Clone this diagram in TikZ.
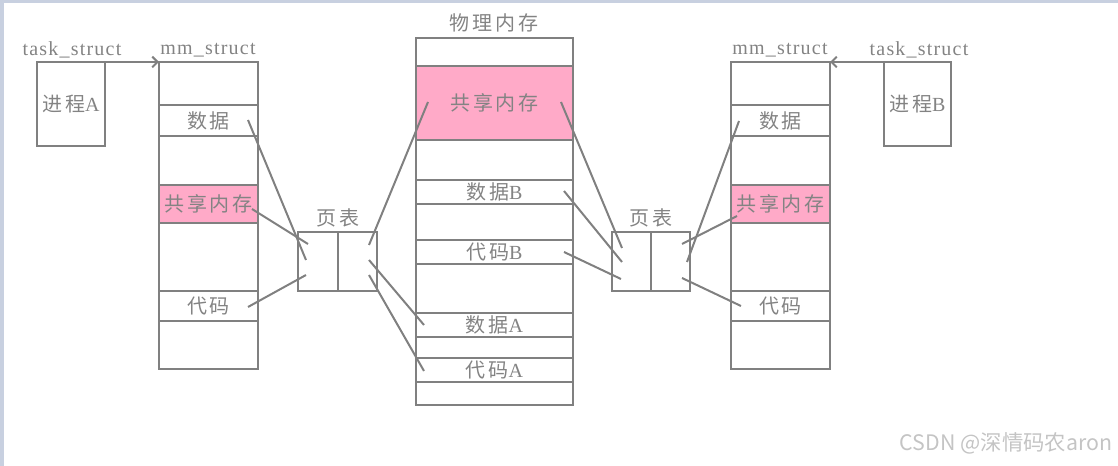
\documentclass[tikz,border=0pt]{standalone}
\usepackage{fontspec}
\setmainfont[LetterSpace=6]{Liberation Serif}
\newfontfamily\cjk[LetterSpace=14]{Noto Sans CJK SC}
\newfontfamily\wmfont{Noto Sans CJK SC}
\usepackage{xcolor}
\usepackage{tikz}
\usetikzlibrary{arrows.meta, positioning}
\definecolor{linegray}{HTML}{808080}
\definecolor{textgray}{HTML}{838383}
\definecolor{sharepink}{HTML}{FFAAC8}
\definecolor{framebg}{HTML}{C8D0E0}
\definecolor{wmgray}{HTML}{C4C4C4}

\begin{document}
\begin{tikzpicture}[
    x=0.75pt, y=-0.75pt,
    every node/.style={text=textgray, font=\fontsize{15}{18}\selectfont},
    cell/.style={rectangle, draw=linegray, line width=1.5pt, outer sep=0pt, inner sep=0pt, minimum width=74.25pt},
    phys/.style={cell, minimum width=117.75pt},
    pagecell/.style={cell, minimum width=29.25pt, minimum height=44.25pt},
    taskbox/.style={cell, minimum width=51pt, minimum height=63pt, anchor=north west},
    link/.style={draw=linegray, line width=1.5pt}
  ]
  \useasboundingbox (0,0) rectangle (1118,466);
  \fill[framebg] (0,0) rectangle (1118,3);
  \fill[framebg] (0,0) rectangle (4,466);

  % process A
  \node[taskbox] (pa) at (37,62) {{\cjk 进程}A};
  \node (pal) at (72,50) {task\_struct};

  % mm_struct of A
  \node[cell, minimum height=32.25pt, anchor=north west] (lm1) at (159,62) {};
  \node[cell, minimum height=23.25pt, below=0pt of lm1] (lm2) {\cjk 数据};
  \node[cell, minimum height=36.75pt, below=0pt of lm2] (lm3) {};
  \node[cell, minimum height=28.5pt, fill=sharepink, below=0pt of lm3] (lm4) {\cjk 共享内存};
  \node[cell, minimum height=51pt, below=0pt of lm4] (lm5) {};
  \node[cell, minimum height=22.5pt, below=0pt of lm5] (lm6) {\cjk 代码};
  \node[cell, minimum height=36pt, below=0pt of lm6] (lm7) {};
  \node (lml) at (208,50) {mm\_struct};

  % page table of A
  \node[pagecell, minimum width=30pt, anchor=north west] (lpt1) at (298,232) {};
  \node[pagecell, right=0pt of lpt1] (lpt2) {};
  \node (lptl) at (338,218) {\cjk 页表};

  % physical memory
  \node[phys, minimum height=21pt, anchor=north west] (ph1) at (416,38) {};
  \node[phys, minimum height=55.5pt, fill=sharepink, below=0pt of ph1] (ph2) {\cjk 共享内存};
  \node[phys, minimum height=30pt, below=0pt of ph2] (ph3) {};
  \node[phys, minimum height=18pt, below=0pt of ph3] (ph4) {{\cjk 数据}B};
  \node[phys, minimum height=27pt, below=0pt of ph4] (ph5) {};
  \node[phys, minimum height=18pt, below=0pt of ph5] (ph6) {{\cjk 代码}B};
  \node[phys, minimum height=36.75pt, below=0pt of ph6] (ph7) {};
  \node[phys, minimum height=18pt, below=0pt of ph7] (ph8) {{\cjk 数据}A};
  \node[phys, minimum height=15.75pt, below=0pt of ph8] (ph9) {};
  \node[phys, minimum height=18pt, below=0pt of ph9] (ph10) {{\cjk 代码}A};
  \node[phys, minimum height=17.25pt, below=0pt of ph10] (ph11) {};
  \node (phl) at (494,23) {\cjk 物理内存};

  % page table of B
  \node[pagecell, anchor=north west] (rpt1) at (612,232) {};
  \node[pagecell, right=0pt of rpt1] (rpt2) {};
  \node (rptl) at (651,218) {\cjk 页表};

  % mm_struct of B
  \node[cell, minimum height=32.25pt, anchor=north west] (rm1) at (731,62) {};
  \node[cell, minimum height=23.25pt, below=0pt of rm1] (rm2) {\cjk 数据};
  \node[cell, minimum height=36.75pt, below=0pt of rm2] (rm3) {};
  \node[cell, minimum height=28.5pt, fill=sharepink, below=0pt of rm3] (rm4) {\cjk 共享内存};
  \node[cell, minimum height=51pt, below=0pt of rm4] (rm5) {};
  \node[cell, minimum height=22.5pt, below=0pt of rm5] (rm6) {\cjk 代码};
  \node[cell, minimum height=36pt, below=0pt of rm6] (rm7) {};
  \node (rml) at (780,50) {mm\_struct};

  % process B
  \node[taskbox, minimum width=50.25pt] (pb) at (884,62) {{\cjk 进程}B};
  \node (pbl) at (919,50) {task\_struct};

  \draw[link, -{Straight Barb[length=4pt, width=8pt]}] (pa.north east) -- (lm1.north west);
  \draw[link, -{Straight Barb[length=4pt, width=8pt]}] (pb.north west) -- (rm1.north east);

  % end points of the mappings
  \coordinate (ld) at (248,120);  \coordinate (lpd) at (306,260);
  \coordinate (ls) at (252,209);  \coordinate (lps) at (308,244);
  \coordinate (lc) at (248,307);  \coordinate (lpc) at (306,275);
  \coordinate (lqs) at (369,245); \coordinate (phsl) at (428,102);
  \coordinate (lqd) at (369,260); \coordinate (pda) at (424,325);
  \coordinate (lqc) at (369,275); \coordinate (pca) at (424,371);
  \coordinate (phsr) at (561,102); \coordinate (rps) at (622,248);
  \coordinate (pdb) at (564,191);  \coordinate (rpd) at (622,262);
  \coordinate (pcb) at (564,252);  \coordinate (rpc) at (621,279);
  \coordinate (rqd) at (687,262); \coordinate (rd) at (739,121);
  \coordinate (rqs) at (682,244); \coordinate (rs) at (737,216);
  \coordinate (rqc) at (682,278); \coordinate (rc) at (741,306);

  \draw[link] (ld) -- (lpd);
  \draw[link] (ls) -- (lps);
  \draw[link] (lc) -- (lpc);
  \draw[link] (lqs) -- (phsl);
  \draw[link] (lqd) -- (pda);
  \draw[link] (lqc) -- (pca);
  \draw[link] (phsr) -- (rps);
  \draw[link] (pdb) -- (rpd);
  \draw[link] (pcb) -- (rpc);
  \draw[link] (rqd) -- (rd);
  \draw[link] (rqs) -- (rs);
  \draw[link] (rqc) -- (rc);

  \node[text=wmgray, font=\wmfont\fontsize{16}{18}\selectfont] (wm) at (1006,443) {CSDN @深情码农aron};
\end{tikzpicture}
\end{document}
